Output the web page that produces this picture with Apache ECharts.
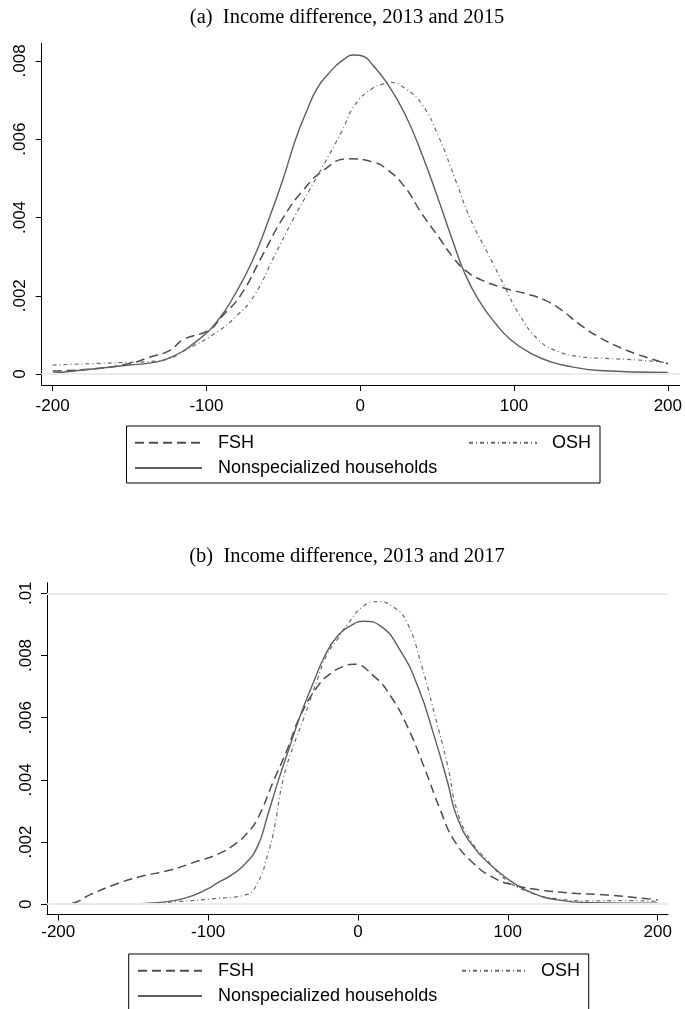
<!DOCTYPE html>
<html>
<head>
<meta charset="utf-8">
<script src="https://cdn.jsdelivr.net/npm/echarts@6/dist/echarts.min.js"></script>
<style>
  html, body { margin: 0; padding: 0; background: #ffffff; }
  #chart { width: 685px; height: 1009px; }
</style>
</head>
<body>
<div id="chart"></div>
<script>
// ---------- Data ----------
const titleA = '(a)  Income difference, 2013 and 2015';
const titleB = '(b)  Income difference, 2013 and 2017';
const seriesNames = ['FSH', 'OSH', 'Nonspecialized households'];

const xTicks = [-200, -100, 0, 100, 200];
const xTickLabels = ['-200', '-100', '0', '100', '200'];
const yTicksA = [0, 0.002, 0.004, 0.006, 0.008];
const yTickLabelsA = ['0', '.002', '.004', '.006', '.008'];
const yTicksB = [0, 0.002, 0.004, 0.006, 0.008, 0.01];
const yTickLabelsB = ['0', '.002', '.004', '.006', '.008', '.01'];

// Panel (a): 2013 and 2015
const aNonX = [-200, -171, -150, -137, -124, -105, -92, -82, -70, -59, -50, -42, -35, -28, -20, -12, -4, 2, 8, 18, 29, 40, 51, 60, 68, 77, 88, 98, 111, 124, 137, 155, 200];
const aNonY = [0.00002, 0.00014, 0.00023, 0.00028, 0.00041, 0.00088, 0.0014, 0.002, 0.0029, 0.004, 0.005, 0.006, 0.0067, 0.0073, 0.0077, 0.008, 0.00815, 0.00812, 0.0079, 0.0074, 0.00665, 0.00563, 0.00444, 0.00342, 0.00257, 0.00189, 0.00129, 0.00087, 0.00053, 0.00031, 0.00019, 0.00009, 0.00004];

const aFshX = [-200, -171, -150, -137, -124, -115, -98, -90, -78, -64, -50, -37, -24, -8, 8, 18, 29, 40, 51, 60, 68, 79, 94, 107, 120, 131, 142, 155, 170, 185, 200];
const aFshY = [0.00008, 0.00014, 0.00027, 0.00043, 0.0006, 0.00088, 0.00113, 0.00147, 0.002, 0.003, 0.004, 0.0047, 0.0052, 0.0055, 0.00542, 0.00521, 0.00478, 0.0041, 0.0035, 0.003, 0.00266, 0.0024, 0.00219, 0.00206, 0.00189, 0.00163, 0.00129, 0.00095, 0.00066, 0.00044, 0.00026];

const aOshX = [-200, -171, -150, -137, -124, -115, -94, -80, -69, -56, -43, -33, -23, -12, -3, 8, 14, 20, 29, 40, 51, 62, 72, 83, 94, 103, 116, 129, 144, 159, 180, 200];
const aOshY = [0.00023, 0.00027, 0.0003, 0.00032, 0.0004, 0.00058, 0.00105, 0.0015, 0.002, 0.003, 0.004, 0.0047, 0.0054, 0.0062, 0.0069, 0.0073, 0.0074, 0.00745, 0.0073, 0.0069, 0.00606, 0.00495, 0.00393, 0.00308, 0.00223, 0.00155, 0.00087, 0.00057, 0.00044, 0.0004, 0.00036, 0.00029];

// Panel (b): 2013 and 2017
const bNonX = [-200, -152, -134, -116, -100, -94, -85, -76, -67, -60, -53, -46, -39, -30, -22, -14, -5, 4, 15, 28, 40, 51, 60, 66, 77, 91, 104, 117, 133, 155, 200];
const bNonY = [0, 0.00001, 0.00005, 0.00019, 0.0005, 0.00068, 0.00092, 0.00126, 0.00186, 0.0029, 0.004, 0.005, 0.006, 0.0071, 0.008, 0.0086, 0.00895, 0.0091, 0.00895, 0.00818, 0.007, 0.00539, 0.00389, 0.00282, 0.00185, 0.00116, 0.00068, 0.00035, 0.00014, 0.00005, 0.00003];

const bFshX = [-200, -191, -179, -163, -145, -125, -108, -94, -83, -74, -67, -56, -47, -39, -27, -18, -9, -3, 11, 22, 33, 44, 55, 64, 77, 91, 104, 122, 144, 166, 200];
const bFshY = [0, 0.00003, 0.0003, 0.00062, 0.00089, 0.0011, 0.00137, 0.0016, 0.0019, 0.00228, 0.00275, 0.004, 0.005, 0.006, 0.007, 0.00743, 0.00766, 0.00772, 0.00732, 0.00668, 0.00571, 0.00443, 0.00303, 0.00207, 0.00132, 0.00084, 0.00062, 0.00046, 0.00035, 0.0003, 0.00014];

const bOshX = [-200, -152, -119, -96, -75, -67, -60, -56, -50, -43, -36, -28, -21, -14, -7, 4, 13, 24, 33, 42, 51, 60, 66, 75, 86, 99, 113, 131, 155, 177, 200];
const bOshY = [0, 0, 0.00009, 0.00018, 0.0003, 0.00068, 0.00164, 0.0024, 0.004, 0.0051, 0.006, 0.0071, 0.008, 0.0085, 0.009, 0.0096, 0.00973, 0.00955, 0.00904, 0.00775, 0.00614, 0.00443, 0.00303, 0.00207, 0.00143, 0.00078, 0.00041, 0.00019, 0.00011, 0.00012, 0.00009];

// ---------- Styles ----------
const sansFont = "'Liberation Sans', Arial, Helvetica, sans-serif";
const serifFont = "'Liberation Serif', 'Times New Roman', serif";
const styleFsh = { color: '#4d4d4d', width: 1.5, type: [9, 5] };
const styleOsh = { color: '#6a6a6a', width: 1.2, type: [4, 3, 1, 3] };
const styleNon = { color: '#5e5e5e', width: 1.4, type: 'solid' };
const gridColor = '#ebebeb';

function zip(xs, ys) { return xs.map((x, i) => [x, ys[i]]); }
function labelFor(vals, labs) {
  return function (v) {
    for (let i = 0; i < vals.length; i++) {
      if (Math.abs(v - vals[i]) < 1e-9) return labs[i];
    }
    return '';
  };
}
function lineSeries(name, xs, ys, idx, style) {
  return {
    type: 'line', name: name, xAxisIndex: idx, yAxisIndex: idx,
    data: zip(xs, ys), symbol: 'none', showSymbol: false,
    smooth: 0.5,
    color: style.color,
    lineStyle: { color: style.color, width: style.width, type: style.type },
    z: 3, silent: true
  };
}
function gridSeries(idx, ticks) {
  return {
    type: 'line', name: '_grid' + idx, xAxisIndex: idx, yAxisIndex: idx,
    data: [], symbol: 'none', silent: true, z: 1,
    markLine: {
      silent: true, symbol: ['none', 'none'], animation: false,
      label: { show: false },
      lineStyle: { color: gridColor, width: 1.6, type: 'solid' },
      data: ticks.map(v => ({ yAxis: v }))
    }
  };
}
function xAxisDef(idx, min, max, margin) {
  return {
    type: 'value', gridIndex: idx, min: min, max: max,
    axisLine: { show: true, onZero: false, lineStyle: { color: '#000', width: 1 } },
    axisTick: { show: true, length: 6, inside: false, customValues: xTicks, lineStyle: { color: '#000', width: 1 } },
    axisLabel: { show: true, customValues: xTicks, margin: margin, fontFamily: sansFont, fontSize: 17, color: '#000',
                 formatter: labelFor(xTicks, xTickLabels) },
    splitLine: { show: false }
  };
}
function yAxisDef(idx, min, max, ticks, labels, margin) {
  return {
    type: 'value', gridIndex: idx, min: min, max: max,
    axisLine: { show: true, onZero: false, lineStyle: { color: '#000', width: 1 } },
    axisTick: { show: true, length: 6, inside: false, customValues: ticks, lineStyle: { color: '#000', width: 1 } },
    axisLabel: { show: true, customValues: ticks, rotate: 90, margin: margin, fontFamily: sansFont, fontSize: 17, color: '#000',
                 formatter: labelFor(ticks, labels) },
    splitLine: { show: false }
  };
}
function legendDef(name, left, top, itemWidth, gap) {
  return {
    data: [name], left: left, top: top, orient: 'horizontal', padding: 0,
    itemWidth: itemWidth, itemHeight: 14, selectedMode: false,
    itemStyle: { opacity: 0 },
    textStyle: { fontFamily: sansFont, fontSize: 18, color: '#000', lineHeight: 18, padding: [0, 0, 0, gap] }
  };
}

const chart = echarts.init(document.getElementById('chart'), null, { renderer: 'canvas' });
chart.setOption({
  animation: false,
  backgroundColor: '#ffffff',
  title: [
    { text: titleA, left: 347, textAlign: 'center', top: 7, padding: 0,
      textStyle: { fontFamily: serifFont, fontSize: 20.5, fontWeight: 'normal', color: '#000' } },
    { text: titleB, left: 347, textAlign: 'center', top: 546.5, padding: 0,
      textStyle: { fontFamily: serifFont, fontSize: 20.5, fontWeight: 'normal', color: '#000' } }
  ],
  grid: [
    { left: 41.7, top: 43.3, width: 640.3, height: 341.7, containLabel: false },
    { left: 47, top: 582.7, width: 621, height: 331.8, containLabel: false }
  ],
  xAxis: [ xAxisDef(0, -207.1, 207.6, 13), xAxisDef(1, -207.5, 206.9, 9) ],
  yAxis: [ yAxisDef(0, -0.00028, 0.00845, yTicksA, yTickLabelsA, 13),
           yAxisDef(1, -0.00033, 0.01034, yTicksB, yTickLabelsB, 12) ],
  legend: [
    legendDef('FSH', 134, 433.7, 67, 11),
    legendDef('OSH', 468, 433.7, 68, 10),
    legendDef('Nonspecialized households', 134, 459, 67, 11),
    legendDef('FSH', 137, 961.7, 64, 11),
    legendDef('OSH', 461, 961.7, 66, 8),
    legendDef('Nonspecialized households', 137, 987, 64, 11)
  ],
  graphic: [
    { type: 'rect', shape: { x: 126.5, y: 426, width: 473.5, height: 57 }, style: { fill: 'none', stroke: '#000', lineWidth: 1 }, silent: true },
    { type: 'rect', shape: { x: 128.7, y: 954, width: 460, height: 60 }, style: { fill: 'none', stroke: '#000', lineWidth: 1 }, silent: true }
  ],
  series: [
    gridSeries(0, yTicksA),
    gridSeries(1, yTicksB),
    lineSeries('FSH', aFshX, aFshY, 0, styleFsh),
    lineSeries('OSH', aOshX, aOshY, 0, styleOsh),
    lineSeries('Nonspecialized households', aNonX, aNonY, 0, styleNon),
    lineSeries('FSH', bFshX, bFshY, 1, styleFsh),
    lineSeries('OSH', bOshX, bOshY, 1, styleOsh),
    lineSeries('Nonspecialized households', bNonX, bNonY, 1, styleNon)
  ]
});
</script>
</body>
</html>
